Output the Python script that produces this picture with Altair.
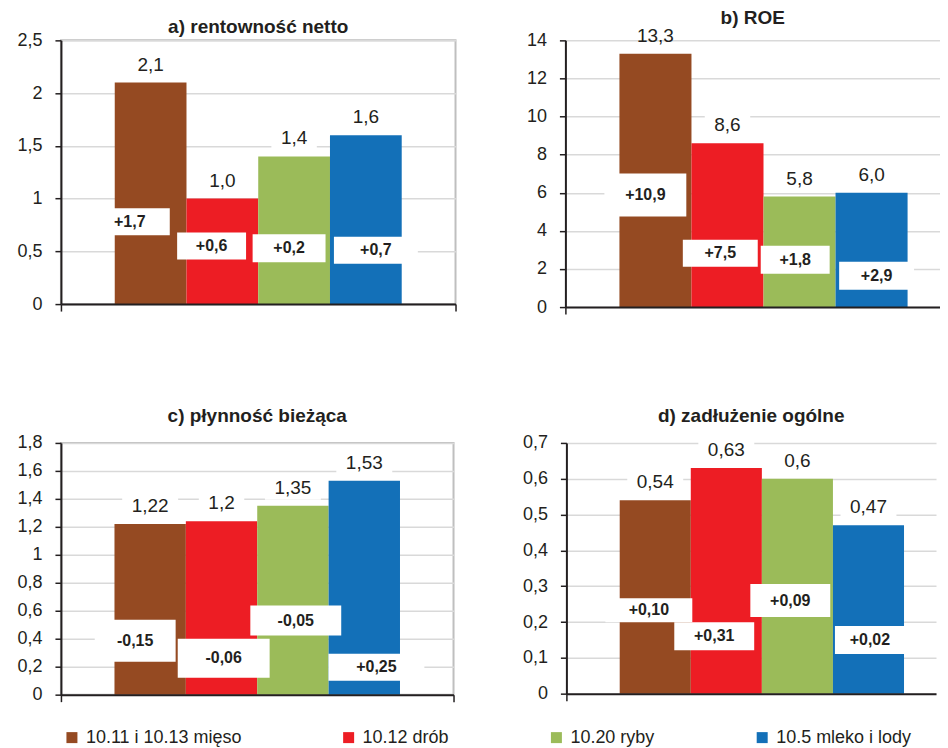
import altair as alt
import pandas as pd

# ---------------- data ----------------
categories = ["10.11 i 10.13 mięso", "10.12 drób", "10.20 ryby", "10.5 mleko i lody"]
colors = ["#954A22", "#ED1D24", "#9BBB59", "#1370B8"]

titles = ["a) rentowność netto", "b) ROE", "c) płynność bieżąca", "d) zadłużenie ogólne"]

values_a = [2.1, 1.0, 1.4, 1.6]
values_b = [13.3, 8.6, 5.8, 6.0]
values_c = [1.22, 1.24, 1.35, 1.53]
values_d = [0.54, 0.63, 0.60, 0.47]

value_labels_a = ["2,1", "1,0", "1,4", "1,6"]
value_labels_b = ["13,3", "8,6", "5,8", "6,0"]
value_labels_c = ["1,22", "1,2", "1,35", "1,53"]
value_labels_d = ["0,54", "0,63", "0,6", "0,47"]

change_labels_a = ["+1,7", "+0,6", "+0,2", "+0,7"]
change_labels_b = ["+10,9", "+7,5", "+1,8", "+2,9"]
change_labels_c = ["-0,15", "-0,06", "-0,05", "+0,25"]
change_labels_d = ["+0,10", "+0,31", "+0,09", "+0,02"]

# anchor of each change label, in axis units (x: bar slot 1..4, y: axis value)
change_x_a = [0.71, 1.85, 2.93, 4.14]
change_y_a = [0.78, 0.55, 0.53, 0.51]
change_x_b = [0.86, 1.90, 2.94, 4.07]
change_y_b = [5.88, 2.83, 2.48, 1.64]
change_x_c = [0.79, 2.03, 3.04, 4.17]
change_y_c = [0.385, 0.26, 0.53, 0.196]
change_x_d = [0.91, 1.83, 2.90, 4.02]
change_y_d = [0.233, 0.16, 0.26, 0.15]

y_ticks_a = [0, 0.5, 1, 1.5, 2, 2.5]
y_ticks_b = [0, 2, 4, 6, 8, 10, 12, 14]
y_ticks_c = [0, 0.2, 0.4, 0.6, 0.8, 1, 1.2, 1.4, 1.6, 1.8]
y_ticks_d = [0, 0.1, 0.2, 0.3, 0.4, 0.5, 0.6, 0.7]

# ---------------- styles ----------------
FONT = "Liberation Sans"
TXT = "#231F20"
GRID = "#D9D9D9"

styles = {
    "a": dict(W=395, H=264, xdom=(-0.25, 5.25), E=52, border=True, toff=-6,
              box_w=[80, 69, 73, 84], box_h=[27, 27, 28, 27]),
    "b": dict(W=375, H=267, xdom=(-0.25, 4.95), E=45, border=False, toff=-1,
              box_w=[82, 75, 69, 75], box_h=[43, 27, 28, 28]),
    "c": dict(W=393, H=252, xdom=(-0.25, 5.25), E=52, border=True, toff=8,
              box_w=[81, 92, 91, 96], box_h=[42, 39, 30, 27]),
    "d": dict(W=370, H=251, xdom=(-0.25, 4.95), E=45, border=False, toff=8,
              box_w=[87, 80, 80, 70], box_h=[24, 28, 33, 28]),
}

legend = alt.Legend(
    title=None, orient="none", legendX=2, legendY=689, direction="horizontal",
    columns=4, columnPadding=98, symbolType="square", symbolSize=121,
    symbolStrokeWidth=0, labelFontSize=18, labelFont=FONT, labelColor=TXT,
    labelOffset=5, gridAlign="each",
)


def panel(title, values, vlabels, clabels, cx, cy, ticks, st):
    W, H = st["W"], st["H"]
    xmin, xmax = st["xdom"]
    ymax = ticks[-1]
    ux = W / (xmax - xmin)
    uy = H / ymax

    bars = pd.DataFrame({
        "cat": categories,
        "x0": [i + 0.5 for i in range(4)],
        "x1": [i + 1.5 for i in range(4)],
        "value": values,
        "base": [0] * 4,
    })
    vrows = []
    for i in range(4):
        ty = values[i] + 18 / uy
        hw = (10.5 * len(vlabels[i]) + 14) / 2 / ux
        vrows.append(dict(slot=i + 1, ty=ty, lab=vlabels[i],
                          bx0=i + 1 - hw, bx1=i + 1 + hw,
                          by0=ty - 12 / uy, by1=ty + 12 / uy,
                          show=ty <= ymax))
    vdf = pd.DataFrame(vrows)
    crows = []
    for i in range(4):
        hw = st["box_w"][i] / 2 / ux
        hh = st["box_h"][i] / 2 / uy
        crows.append(dict(cx=cx[i], cy=cy[i], lab=clabels[i],
                          bx0=cx[i] - hw, bx1=cx[i] + hw,
                          by0=cy[i] - hh, by1=cy[i] + hh))
    cdf = pd.DataFrame(crows)

    xs = alt.Scale(domain=[xmin, xmax], nice=False, zero=False)
    ys = alt.Scale(domain=[0, ymax], nice=False)
    xticks = [xmin, xmax] if st["border"] else [xmin]
    xaxis = alt.Axis(values=xticks, labels=False, title=None, grid=False,
                     tickSize=7, tickWidth=1.5, tickColor=TXT,
                     domainColor=TXT, domainWidth=2, zindex=1)
    yaxis = alt.Axis(values=ticks, format="~g",
                     labelExpr="replace(datum.label, '.', ',')",
                     title=None, grid=True, gridColor=GRID, gridWidth=1.5,
                     domainColor=TXT, domainWidth=2, tickColor=TXT,
                     tickWidth=1.5, tickSize=6, labelFontSize=18,
                     labelFont=FONT, labelColor=TXT, labelPadding=13,
                     minExtent=st["E"], maxExtent=st["E"])

    l_bars = alt.Chart(bars).mark_rect().encode(
        x=alt.X("x0:Q", scale=xs, axis=xaxis),
        x2="x1:Q",
        y=alt.Y("value:Q", scale=ys, axis=yaxis),
        y2="base:Q",
        color=alt.Color("cat:N", scale=alt.Scale(domain=categories, range=colors),
                        legend=legend),
    )
    l_vbox = alt.Chart(vdf[vdf["show"]]).mark_rect(color="white").encode(
        x=alt.X("bx0:Q", scale=xs, axis=xaxis), x2="bx1:Q",
        y=alt.Y("by0:Q", scale=ys, axis=yaxis), y2="by1:Q",
    )
    l_vtext = alt.Chart(vdf).mark_text(
        font=FONT, fontSize=19, color=TXT, baseline="middle", align="center"
    ).encode(
        x=alt.X("slot:Q", scale=xs, axis=xaxis),
        y=alt.Y("ty:Q", scale=ys, axis=yaxis),
        text="lab:N",
    )
    l_cbox = alt.Chart(cdf).mark_rect(color="white").encode(
        x=alt.X("bx0:Q", scale=xs, axis=xaxis), x2="bx1:Q",
        y=alt.Y("by0:Q", scale=ys, axis=yaxis), y2="by1:Q",
    )
    l_ctext = alt.Chart(cdf).mark_text(
        font=FONT, fontSize=16, fontWeight="bold", color=TXT,
        baseline="middle", align="center"
    ).encode(
        x=alt.X("cx:Q", scale=xs, axis=xaxis),
        y=alt.Y("cy:Q", scale=ys, axis=yaxis),
        text="lab:N",
    )
    view = (alt.ViewBackground(stroke="#BFBFBF", strokeWidth=2) if st["border"]
            else alt.ViewBackground(stroke="transparent", strokeWidth=0))
    return alt.layer(l_bars, l_vbox, l_vtext, l_cbox, l_ctext).properties(
        width=W, height=H, view=view,
        title=alt.TitleParams(title, fontSize=19, fontWeight="bold", font=FONT,
                              color=TXT, offset=st["toff"], anchor="middle"),
    )


pa = panel(titles[0], values_a, value_labels_a, change_labels_a, change_x_a, change_y_a, y_ticks_a, styles["a"])
pb = panel(titles[1], values_b, value_labels_b, change_labels_b, change_x_b, change_y_b, y_ticks_b, styles["b"])
pc = panel(titles[2], values_c, value_labels_c, change_labels_c, change_x_c, change_y_c, y_ticks_c, styles["c"])
pd_ = panel(titles[3], values_d, value_labels_d, change_labels_d, change_x_d, change_y_d, y_ticks_d, styles["d"])

chart = alt.vconcat(
    alt.hconcat(pa, pb, spacing=63),
    alt.hconcat(pc, pd_, spacing=66),
    spacing=90,
).properties(
    padding={"left": 0, "top": 0, "right": 0, "bottom": 0},
    background="white",
)

chart.save("out.html", embed_options={"renderer": "svg", "actions": False})
